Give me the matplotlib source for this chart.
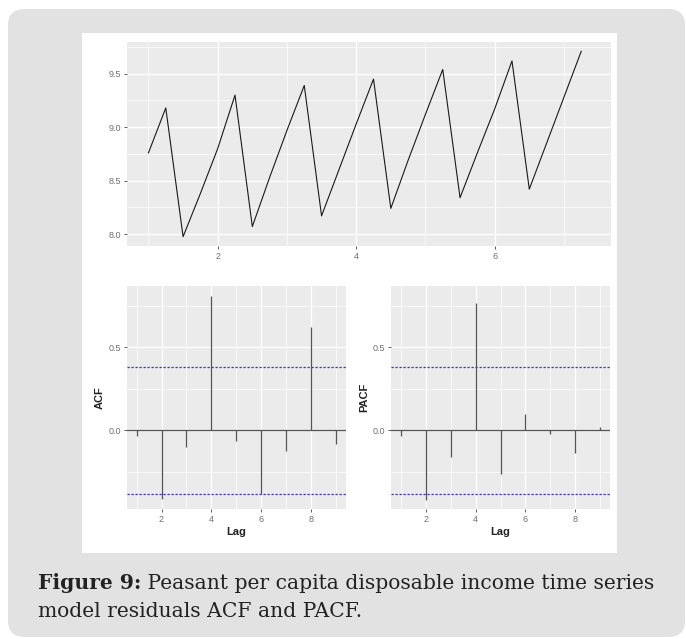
import matplotlib
matplotlib.use("Agg")
import matplotlib.pyplot as plt
from matplotlib.patches import FancyBboxPatch, Rectangle
from matplotlib.ticker import FixedLocator

# residual series (quarterly, starting at 1)
t = [1 + 0.25 * i for i in range(26)]
resid = [8.76, 9.18, 7.975, 8.38, 8.80, 9.30, 8.07, 8.53, 8.97, 9.39,
         8.17, 8.60, 9.03, 9.45, 8.24, 8.69, 9.12, 9.54, 8.34, 8.76,
         9.17, 9.62, 8.42, 8.85, 9.28, 9.71]

lags = [1, 2, 3, 4, 5, 6, 7, 8, 9]
acf_vals = [-0.032, -0.416, -0.102, 0.809, -0.062, -0.384, -0.124, 0.624, -0.082]
pacf_vals = [-0.032, -0.420, -0.159, 0.769, -0.263, 0.098, -0.022, -0.137, 0.018]
ci = 0.384

caption_bold = "Figure 9:"
caption_rest = " Peasant per capita disposable income time series"
caption_line2 = "model residuals ACF and PACF."

plt.rcParams['font.family'] = ['Liberation Sans', 'DejaVu Sans']

W, H = 686, 639
fig = plt.figure(figsize=(W / 100, H / 100), dpi=100)
fig.patch.set_facecolor("white")

# outer grey rounded box and white plot area
fig.patches.append(FancyBboxPatch((8 / W, 2 / H), 677 / W, 628 / H,
                                  boxstyle="round,pad=0,rounding_size=0.025",
                                  transform=fig.transFigure, facecolor="#e2e2e2",
                                  edgecolor="none", zorder=-2))
fig.patches.append(Rectangle((82 / W, (H - 553) / H), 535 / W, 520 / H,
                             transform=fig.transFigure, facecolor="white",
                             edgecolor="none", zorder=-1))


def gg_axes(rect, xmaj, xmin, ymaj, ymin, ylabels):
    ax = fig.add_axes(rect)
    ax.set_zorder(2)
    ax.set_facecolor("#ebebeb")
    for s in ax.spines.values():
        s.set_visible(False)
    ax.xaxis.set_major_locator(FixedLocator(xmaj))
    ax.xaxis.set_minor_locator(FixedLocator(xmin))
    ax.yaxis.set_major_locator(FixedLocator(ymaj))
    ax.yaxis.set_minor_locator(FixedLocator(ymin))
    ax.set_yticklabels(ylabels)
    ax.grid(which="major", color="white", linewidth=1.0)
    ax.grid(which="minor", color="white", linewidth=0.5)
    ax.set_axisbelow(True)
    ax.tick_params(which="major", length=2.5, width=0.6, color="#444444",
                   labelsize=6.5, labelcolor="#707070", pad=1.5)
    ax.tick_params(which="minor", length=0)
    return ax


# top: residual series
ax1 = gg_axes([127 / W, 1 - 246 / H, 484 / W, 204 / H],
              [2, 4, 6], [1, 3, 5, 7], [8.0, 8.5, 9.0, 9.5],
              [8.25, 8.75, 9.25, 9.75], ["8.0", "8.5", "9.0", "9.5"])
ax1.plot(t, resid, color="#1a1a1a", linewidth=0.8)
ax1.set_xlim(0.69, 7.68)
ax1.set_ylim(7.888, 9.797)


def corr_panel(rect, vals, label):
    ax = gg_axes(rect, [2, 4, 6, 8], [1, 3, 5, 7, 9], [0.0, 0.5],
                 [-0.25, 0.25, 0.75], ["0.0", "0.5"])
    ax.axhline(0, color="#555555", linewidth=0.9)
    ax.vlines(lags, 0, vals, color="#555555", linewidth=0.9)
    ax.axhline(ci, color="#3838b0", linewidth=0.9, linestyle=(0, (1.8, 1.4)))
    ax.axhline(-ci, color="#3838b0", linewidth=0.9, linestyle=(0, (1.8, 1.4)))
    ax.set_xlim(0.6, 9.4)
    ax.set_ylim(-0.477, 0.870)
    ax.set_xlabel("Lag", fontsize=8, fontweight="bold", color="#222222", labelpad=2)
    ax.set_ylabel(label, fontsize=8, fontweight="bold", color="#222222", labelpad=3)
    return ax


corr_panel([126.7 / W, 1 - 509.3 / H, 219 / W, 223.3 / H], acf_vals, "ACF")
corr_panel([391 / W, 1 - 509.3 / H, 219 / W, 223.3 / H], pacf_vals, "PACF")

# caption
cap_kw = dict(fontsize=14.6, family=["DejaVu Serif"], color="#222222")
tb = fig.text(38 / W, 1 - 589 / H, caption_bold, fontweight="bold", **cap_kw)
r = fig.canvas.get_renderer()
bb = tb.get_window_extent(r)
fig.text(bb.x1 / W, 1 - 589 / H, caption_rest, **cap_kw)
fig.text(38 / W, 1 - 617 / H, caption_line2, **cap_kw)

fig.savefig("out.png", dpi=100)
